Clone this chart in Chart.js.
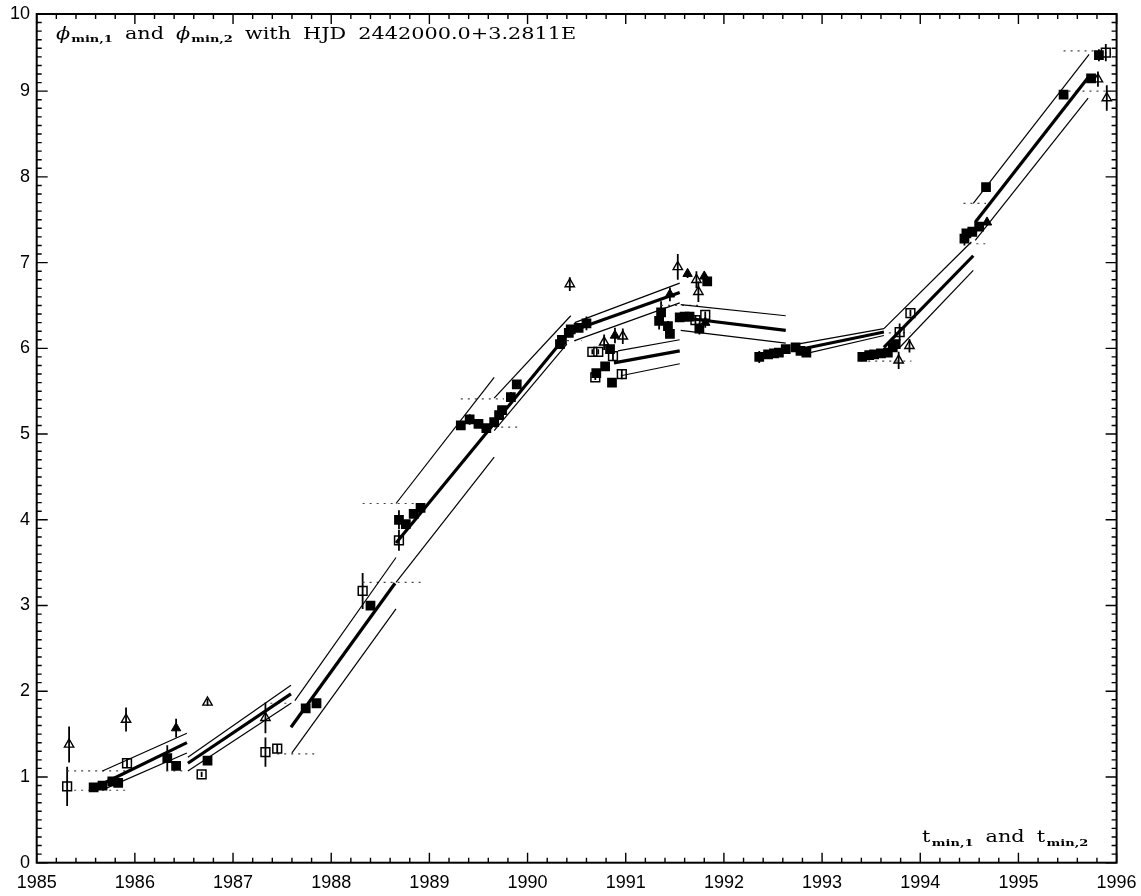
<!DOCTYPE html>
<html>
<head>
<meta charset="utf-8">
<script src="https://cdn.jsdelivr.net/npm/chart.js@4.4.1/dist/chart.umd.min.js"></script>
<style>
  html, body { margin: 0; padding: 0; background: #fff; }
  #wrap { width: 1141px; height: 896px; }
</style>
</head>
<body>
<div id="wrap"><canvas id="c" width="1141" height="896"></canvas></div>
<script>
// ---- Minimum phases (cycles) vs. epoch, with vertical error bars ----

// filled squares
const fsqX   = [1985.58,1985.67,1985.77,1985.83,1986.33,1986.42,1986.74,1987.74,1987.85,1988.40,
                1988.69,1988.76,1988.84,1988.91,1989.32,1989.41,1989.50,1989.58,1989.66,1989.71,
                1989.74,1989.83,1989.89,1990.33,1990.35,1990.42,1990.44,1990.52,1990.60,1990.70,
                1990.79,1990.84,1990.86,1991.34,1991.36,1991.43,1991.45,1991.55,1991.60,1991.65,
                1991.75,1991.83,1992.36,1992.45,1992.51,1992.56,1992.63,1992.73,1992.78,1992.84,
                1993.41,1993.48,1993.53,1993.60,1993.67,1993.72,1993.75,1994.45,1994.47,1994.53,
                1994.60,1994.67,1995.46,1995.74,1995.82];
const fsqY   = [0.88,0.90,0.95,0.93,1.22,1.13,1.19,1.80,1.86,3.00,
                4.00,3.95,4.07,4.14,5.10,5.17,5.12,5.07,5.14,5.22,
                5.28,5.43,5.58,6.05,6.10,6.18,6.22,6.24,6.29,5.71,
                5.79,5.99,5.60,6.32,6.42,6.26,6.17,6.36,6.37,6.37,
                6.23,6.78,5.90,5.93,5.94,5.95,5.99,6.01,5.97,5.95,
                5.90,5.92,5.93,5.94,5.95,6.01,6.05,7.28,7.34,7.36,
                7.42,7.88,8.96,9.15,9.42];
const fsqErr = [0.03,0.03,0.03,0.03,0.15,0.04,0.04,0.03,0.03,0.04,
                0.11,0.04,0.04,0.04,0.03,0.06,0.03,0.03,0.03,0.03,
                0.04,0.06,0.04,0.05,0.04,0.05,0.04,0.04,0.08,0.04,
                0.04,0.04,0.04,0.10,0.13,0.06,0.05,0.04,0.04,0.04,
                0.07,0.04,0.07,0.03,0.03,0.03,0.03,0.03,0.03,0.04,
                0.05,0.03,0.03,0.03,0.03,0.03,0.05,0.08,0.04,0.04,
                0.04,0.04,0.03,0.03,0.07];

// open squares
const osqX   = [1985.31,1985.92,1986.68,1987.33,1987.45,1988.32,1988.69,1990.66,1990.72,1990.69,
                1990.87,1990.96,1991.71,1991.81,1993.79,1993.90,1995.89];
const osqY   = [0.89,1.16,1.03,1.29,1.33,3.17,3.76,5.96,5.96,5.66,
                5.91,5.70,6.33,6.39,6.19,6.41,9.45];
const osqErr = [0.23,0.05,0.03,0.17,0.05,0.21,0.12,0.03,0.03,0.03,
                0.05,0.06,0.06,0.04,0.10,0.04,0.10];

// open triangles
const otrX   = [1985.33,1985.91,1986.74,1987.33,1990.43,1990.78,1990.97,1991.53,1991.72,1991.74,
                1993.78,1993.89,1995.81,1995.90];
const otrY   = [1.38,1.67,1.87,1.69,6.75,6.07,6.14,6.95,6.80,6.66,
                5.86,6.03,9.14,8.92];
const otrErr = [0.21,0.14,0.04,0.18,0.08,0.09,0.09,0.15,0.10,0.12,
                0.10,0.08,0.09,0.15];

// filled triangles
const ftrX   = [1986.42,1990.89,1991.45,1991.63,1991.80,1991.81,1994.68];
const ftrY   = [1.57,6.15,6.63,6.87,6.84,6.30,7.47];
const ftrErr = [0.11,0.09,0.08,0.05,0.04,0.06,0.04];

// fitted ephemeris pieces: [t0, phi0, t1, phi1]
const fitMain = [
  [1985.60,0.88,1986.53,1.40],[1986.54,1.16,1987.59,1.97],[1987.59,1.58,1988.65,3.26],
  [1988.66,3.73,1990.44,6.21],[1990.44,6.20,1991.55,6.65],[1990.88,5.83,1991.55,5.97],
  [1991.56,6.36,1992.63,6.21],[1992.78,5.99,1993.63,6.19],[1993.63,6.01,1994.54,7.08],
  [1994.56,7.47,1995.71,9.16]];
const fitUpper = [
  [1985.67,1.07,1986.53,1.51],[1986.54,1.23,1987.59,2.07],[1987.63,1.89,1988.66,3.56],
  [1988.66,4.19,1989.66,5.66],[1989.66,5.42,1990.44,6.38],[1990.48,6.30,1991.55,6.76],
  [1990.92,5.97,1991.55,6.10],[1991.56,6.51,1992.63,6.38],[1992.75,6.05,1993.63,6.23],
  [1993.63,6.23,1994.52,7.24],[1994.54,7.69,1995.72,9.43]];
const fitLower = [
  [1985.67,0.85,1986.53,1.28],[1986.54,1.07,1987.59,1.86],[1987.60,1.28,1988.66,2.96],
  [1988.66,3.27,1989.66,4.73],[1989.66,5.04,1990.40,6.05],[1990.48,6.09,1991.55,6.53],
  [1990.95,5.68,1991.55,5.82],[1991.56,6.21,1992.63,6.06],[1992.80,5.93,1993.63,6.15],
  [1993.79,6.01,1994.54,6.91],[1994.56,7.26,1995.71,8.92]];

// dotted reference levels: [phi, t0, t1]
const levels = [
  [1.07,1985.31,1985.92],[0.845,1985.31,1985.92],[1.07,1986.32,1986.53],[1.86,1987.38,1987.60],
  [1.27,1987.45,1987.85],[4.19,1988.32,1988.86],[3.27,1988.32,1988.91],[5.41,1989.32,1989.76],
  [5.08,1989.66,1989.90],[6.09,1990.33,1990.55],[6.50,1991.36,1991.78],[6.18,1993.68,1993.90],
  [5.85,1993.47,1993.91],[7.69,1994.44,1994.67],[7.22,1994.50,1994.67],[9.47,1995.46,1995.88],
  [9.00,1995.51,1995.88]];

// axis ticks
const yearTicks = [1985,1986,1987,1988,1989,1990,1991,1992,1993,1994,1995,1996];
const phaseTicks = [0,1,2,3,4,5,6,7,8,9,9.9];
const phaseTickLabels = ['0','1','2','3','4','5','6','7','8','9','10'];

// ---------------------------------------------------------------------
const pts = (xs, ys, es) => xs.map((x, i) => ({ x: x, y: ys[i], err: es[i] }));
const seg = s => [{ x: s[0], y: s[1] }, { x: s[2], y: s[3] }];

const datasets = [
  { label: 'filled squares', data: pts(fsqX, fsqY, fsqErr), pointStyle: 'rect', pointRadius: 6.9,
    backgroundColor: '#000', borderColor: '#000', borderWidth: 0, errorBars: true },
  { label: 'open squares', data: pts(osqX, osqY, osqErr), pointStyle: 'rect', pointRadius: 6.2,
    backgroundColor: 'rgba(0,0,0,0)', borderColor: '#000', borderWidth: 1.5, errorBars: true },
  { label: 'open triangles', data: pts(otrX, otrY, otrErr), pointStyle: 'triangle', pointRadius: 5.4,
    backgroundColor: 'rgba(0,0,0,0)', borderColor: '#000', borderWidth: 1.4, errorBars: true },
  { label: 'filled triangles', data: pts(ftrX, ftrY, ftrErr), pointStyle: 'triangle', pointRadius: 5.4,
    backgroundColor: '#000', borderColor: '#000', borderWidth: 1, errorBars: true }
];
fitMain.forEach(s => datasets.push({ data: seg(s), showLine: true, pointRadius: 0,
  borderColor: '#000', borderWidth: 3.2 }));
fitUpper.concat(fitLower).forEach(s => datasets.push({ data: seg(s), showLine: true, pointRadius: 0,
  borderColor: '#000', borderWidth: 1.2 }));
levels.forEach(l => datasets.push({ data: [{ x: l[1], y: l[0] }, { x: l[2], y: l[0] }], showLine: true,
  pointRadius: 0, borderColor: '#444', borderWidth: 1.2, borderDash: [2, 5] }));

// vertical error bars, drawn under the symbols
const errorBarPlugin = {
  id: 'errorBars',
  beforeDatasetsDraw(chart) {
    const ctx = chart.ctx, ys = chart.scales.y;
    ctx.save();
    ctx.beginPath();
    ctx.rect(chart.chartArea.left, chart.chartArea.top, chart.chartArea.width, chart.chartArea.height);
    ctx.clip();
    ctx.strokeStyle = '#000';
    ctx.lineWidth = 1.8;
    chart.data.datasets.forEach((ds, i) => {
      if (!ds.errorBars) return;
      const meta = chart.getDatasetMeta(i);
      ds.data.forEach((d, j) => {
        const px = meta.data[j].x;
        ctx.beginPath();
        ctx.moveTo(px, ys.getPixelForValue(d.y - d.err));
        ctx.lineTo(px, ys.getPixelForValue(d.y + d.err));
        ctx.stroke();
      });
    });
    ctx.restore();
  }
};

// captions in a wide plotter-style serif: glyphs stretched horizontally by `sx`,
// each part preceded by an optional gap (word space)
function drawRun(ctx, parts, x, y, sx) {
  parts.forEach(p => {
    x += p.gap || 0;
    ctx.font = p.font;
    for (const ch of p.text) {
      ctx.save();
      ctx.translate(x, y + (p.dy || 0));
      ctx.scale(sx, 1);
      ctx.fillText(ch, 0, 0);
      ctx.restore();
      x += ctx.measureText(ch).width * sx + (p.sp || 0);
    }
  });
}

// frame with inward ticks on all four sides, plus the two captions
const framePlugin = {
  id: 'frame',
  afterDraw(chart) {
    const ctx = chart.ctx, a = chart.chartArea, xs = chart.scales.x, ys = chart.scales.y;
    ctx.save();
    ctx.strokeStyle = '#000';
    ctx.lineWidth = 1.4;
    // x ticks (major every year, minor every 0.2 yr)
    for (let k = 0; k <= 55; k++) {
      const v = 1985 + k * 0.2, px = xs.getPixelForValue(v), len = (k % 5 === 0) ? 10 : 5;
      ctx.beginPath();
      ctx.moveTo(px, a.bottom); ctx.lineTo(px, a.bottom - len);
      ctx.moveTo(px, a.top); ctx.lineTo(px, a.top + len);
      ctx.stroke();
    }
    // y ticks (major every unit, minor every 0.1)
    for (let k = 0; k <= 99; k++) {
      const v = k * 0.1, py = ys.getPixelForValue(v), len = (k % 10 === 0) ? 11 : 5;
      ctx.beginPath();
      ctx.moveTo(a.left, py); ctx.lineTo(a.left + len, py);
      ctx.moveTo(a.right, py); ctx.lineTo(a.right - len, py);
      ctx.stroke();
    }
    ctx.lineWidth = 2;
    ctx.strokeRect(a.left, a.top, a.right - a.left, a.bottom - a.top);

    ctx.fillStyle = '#000';
    ctx.textBaseline = 'alphabetic';
    ctx.textAlign = 'left';
    const serif = '"DejaVu Serif", "Liberation Serif", serif';
    const phi = 'italic 16px ' + serif, big = '16px ' + serif, sub = 'bold 10px ' + serif;
    const sx = 1.3, wordGap = 12;
    drawRun(ctx, [
      { text: '\u03D5', font: phi },
      { text: 'min,1', font: sub, dy: 3.8, gap: 1 },
      { text: 'and', font: big, gap: wordGap },
      { text: '\u03D5', font: phi, gap: wordGap },
      { text: 'min,2', font: sub, dy: 3.8, gap: 1 },
      { text: 'with', font: big, gap: wordGap },
      { text: 'HJD', font: big, gap: wordGap },
      { text: '2442000.0+3.2811E', font: big, gap: wordGap }
    ], 56, 38.5, sx);
    drawRun(ctx, [
      { text: 't', font: big },
      { text: 'min,1', font: sub, dy: 4.2, gap: 1.5 },
      { text: 'and', font: big, gap: wordGap },
      { text: 't', font: big, gap: wordGap },
      { text: 'min,2', font: sub, dy: 4.2, gap: 1.5 }
    ], 922, 841.5, sx);
    ctx.restore();
  }
};

new Chart(document.getElementById('c'), {
  type: 'scatter',
  data: { datasets: datasets },
  options: {
    responsive: false,
    animation: false,
    events: [],
    layout: { padding: { left: 0, right: 24.4, top: 14, bottom: 0 } },
    plugins: { legend: { display: false }, tooltip: { enabled: false } },
    scales: {
      x: {
        type: 'linear', min: 1985, max: 1996,
        grid: { display: false, drawTicks: false },
        border: { display: false },
        afterBuildTicks: s => { s.ticks = yearTicks.map(v => ({ value: v })); },
        afterFit: s => { s.height = 33.3; s.paddingLeft = 0; s.paddingRight = 0; },
        ticks: { padding: 10, color: '#000', font: { family: '"Liberation Sans", Arial, sans-serif', size: 18 },
                 maxRotation: 0, autoSkip: false, callback: v => String(v) }
      },
      y: {
        type: 'linear', min: 0, max: 9.9,
        grid: { display: false, drawTicks: false },
        border: { display: false },
        afterBuildTicks: s => { s.ticks = phaseTicks.map(v => ({ value: v })); },
        afterFit: s => { s.width = 36.7; s.paddingTop = 0; s.paddingBottom = 0; },
        ticks: { padding: 6.7, color: '#000', font: { family: '"Liberation Sans", Arial, sans-serif', size: 18 },
                 autoSkip: false,
                 callback: v => phaseTickLabels[phaseTicks.indexOf(v)] }
      }
    }
  },
  plugins: [errorBarPlugin, framePlugin]
});
</script>
</body>
</html>
